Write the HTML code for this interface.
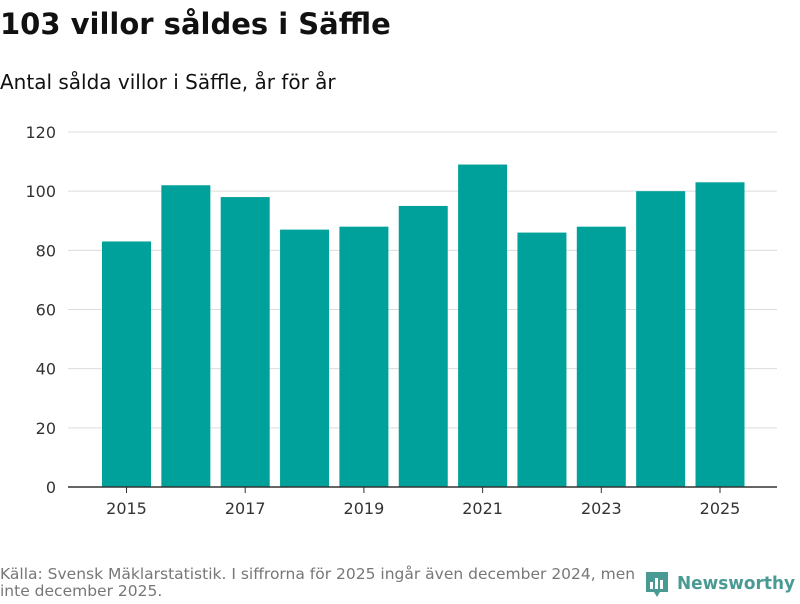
<!DOCTYPE html>
<html><head><meta charset="utf-8"><style>
body{margin:0;background:#fff;width:800px;height:600px;overflow:hidden;font-family:"DejaVu Sans","Liberation Sans",sans-serif}
</style></head><body>
<svg width="800" height="600" xmlns="http://www.w3.org/2000/svg" font-family="DejaVu Sans, Liberation Sans, sans-serif">
<text x="0" y="34" font-size="29" font-weight="bold" fill="#111">103 villor såldes i Säffle</text>
<text x="0" y="89" font-size="20" fill="#111">Antal sålda villor i Säffle, år för år</text>
<g id="grid"></g><g id="bars"></g><g id="axes"></g>
<text x="0" y="579" font-size="15.5" fill="#777">Källa: Svensk Mäklarstatistik. I siffrorna för 2025 ingår även december 2024, men</text>
<text x="0" y="596" font-size="15.5" fill="#777">inte december 2025.</text>
<g>
<path d="M646 572 h22 v20 h-8 l-3 5 l-3 -5 h-8 z" fill="#4a9a94"/>
<rect x="650" y="582" width="3" height="7" fill="#fff"/><rect x="655" y="578" width="3" height="11" fill="#fff"/><rect x="660" y="580" width="3" height="9" fill="#fff"/>
<text x="677" y="589" font-size="18" font-weight="bold" fill="#4a9a94" textLength="118" lengthAdjust="spacingAndGlyphs">Newsworthy</text>
</g>
</svg>
<script>
const years=["2015","2016","2017","2018","2019","2020","2021","2022","2023","2024","2025"];
const values=[83,102,98,87,88,95,109,86,88,100,103];
const yTicks=[0,20,40,60,80,100,120];
const NS="http://www.w3.org/2000/svg";
const y0=487,yTop=132,yMax=120;
const y=v=>y0-(v/yMax)*(y0-yTop);
const xc=i=>126.5+i*59.35;
const bw=49;
function mk(tag,attrs,parent,txt){const e=document.createElementNS(NS,tag);for(const k in attrs)e.setAttribute(k,attrs[k]);if(txt!==undefined)e.textContent=txt;document.getElementById(parent).appendChild(e);return e;}
yTicks.forEach(t=>{
 if(t>0){const l=mk('line',{x1:68,x2:777,y1:y(t),y2:y(t),stroke:'#dcdcdc','stroke-width':1},'grid');
 
 }
 const tx=mk('text',{x:56,y:y(t)+6,'font-size':16,fill:'#333','text-anchor':'end'},'axes',t);
 
 
});
values.forEach((v,i)=>{
 const r=mk('rect',{x:xc(i)-bw/2,y:y(v),width:bw,height:y0-y(v),fill:'#00a19a'},'bars');
 
 
 if(i%2===0){
  mk('line',{x1:xc(i),x2:xc(i),y1:y0,y2:y0+6,stroke:'#333'},'axes');
  const tx=mk('text',{x:xc(i),y:y0+27,'font-size':16,fill:'#333','text-anchor':'middle'},'axes',years[i]);
  
  
 }
});
const ax=mk('line',{x1:68,x2:777,y1:y0,y2:y0,stroke:'#333','stroke-width':1.5},'axes');


</script>
</body></html>
